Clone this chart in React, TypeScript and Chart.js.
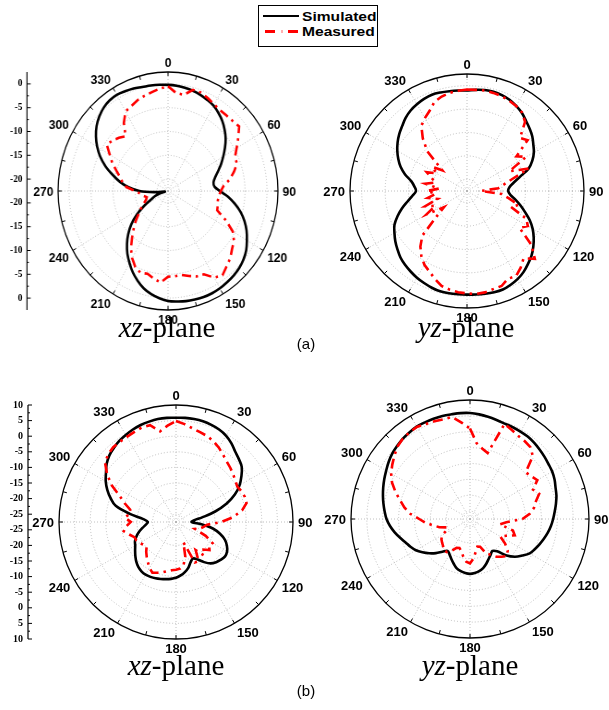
import React, { useEffect, useRef } from 'react';
import { Chart, registerables } from 'chart.js';

Chart.register(...registerables);

// Angular categories (degrees, 5° step)
const angleCategories = [
  '0', '5', '10', '15', '20', '25', '30', '35', '40', '45', '50', '55',
  '60', '65', '70', '75', '80', '85', '90', '95', '100', '105', '110', '115',
  '120', '125', '130', '135', '140', '145', '150', '155', '160', '165', '170', '175',
  '180', '185', '190', '195', '200', '205', '210', '215', '220', '225', '230', '235',
  '240', '245', '250', '255', '260', '265', '270', '275', '280', '285', '290', '295',
  '300', '305', '310', '315', '320', '325', '330', '335', '340', '345', '350', '355',
];
const angleTickLabels = [0, 30, 60, 90, 120, 150, 180, 210, 240, 270, 300, 330];

// Radial axis ticks
const aRadialTicks = [0, -5, -10, -15, -20];
const aMinorTicks = [-2.5, -7.5, -12.5, -17.5];
const aGrid = [-20, -15, -10, -5, 0];
const bRadialTicks = [10, 5, 0, -5, -10, -15, -20, -25];
const bMinorTicks = [7.5, 2.5, -2.5, -7.5, -12.5, -17.5, -22.5];
const bGrid = [-25, -20, -15, -10, -5, 0, 5];

// (a) xz-plane
const aXzSimulated = [
  -0.2, -0.3, -0.5, -0.7, -1.0, -1.4, -1.8, -2.5, -3.3, -4.3, -5.4, -6.7,
  -8.0, -9.2, -10.4, -11.4, -12.0, -11.9, -10.7, -8.8, -7.1, -5.4, -4.0, -2.8,
  -1.8, -0.8, -0.1, 0.4, 0.7, 0.9, 1.1, 1.2, 1.2, 1.1, 1.0, 0.8,
  0.6, 0.1, -0.5, -1.3, -2.4, -3.6, -5.0, -6.4, -8.0, -9.7, -11.6, -13.8,
  -16.2, -18.2, -19.3, -20.5, -21.8, -19.8, -16.0, -13.5, -11.4, -9.5, -7.4, -5.5,
  -3.9, -2.5, -1.3, -0.4, 0.3, 0.7, 0.8, 0.6, 0.4, 0.1, 0.0, -0.1,
];
const aXzMeasured = [
  -0.5, -1.8, -2.0, -0.5, -0.5, -1.0, -1.5, -1.8, -1.8, -1.7, -1.4, -3.0,
  -4.5, -5.7, -5.8, -7.0, -8.2, -9.8, -10.5, -10.9, -11.0, -10.8, -10.6, -8.0,
  -5.5, -4.2, -3.5, -2.5, -1.8, -0.9, -1.5, -3.2, -3.4, -4.0, -4.6, -4.5,
  -4.5, -3.2, -3.8, -4.5, -4.2, -4.9, -6.2, -7.8, -9.8, -11.5, -13.0, -14.5,
  -15.5, -16.5, -17.2, -17.5, -16.8, -16.2, -15.0, -13.0, -12.0, -11.2, -10.0, -8.5,
  -7.2, -5.5, -6.0, -6.7, -7.5, -5.0, -3.2, -2.8, -2.2, -1.8, -1.4, -0.9,
];

// (a) yz-plane
const aYzSimulated = [
  -1.0, -0.8, -0.6, -0.55, -0.7, -1.0, -1.5, -2.1, -2.9, -3.6, -4.3, -5.2,
  -6.0, -7.1, -8.5, -10.8, -12.4, -13.4, -13.7, -13.2, -12.0, -10.7, -9.3, -7.7,
  -6.3, -5.1, -4.0, -3.0, -2.2, -1.4, -0.8, -0.4, -0.1, -0.1, -0.2, -0.3,
  -0.35, -0.35, -0.3, -0.3, -0.5, -0.8, -1.1, -1.5, -1.9, -2.4, -3.1, -3.8,
  -4.6, -5.4, -6.7, -8.1, -9.6, -10.8, -11.6, -11.2, -10.4, -8.8, -7.4, -6.3,
  -5.3, -4.4, -3.6, -2.9, -2.1, -1.5, -1.1, -0.8, -0.6, -0.7, -0.85, -0.95,
];
const aYzMeasured = [
  -0.8, -0.8, -0.7, -0.8, -0.9, -1.2, -1.5, -2.0, -3.2, -6.5, -5.6, -9.6,
  -7.9, -12.5, -8.5, -12.4, -14.5, -15.8, -19.5, -15.0, -13.4, -11.1, -12.5, -8.5,
  -7.5, -8.8, -4.5, -2.0, -3.7, -2.5, -1.5, -1.8, -0.9, -0.8, -0.5, -0.4,
  -0.6, -0.8, -1.1, -1.5, -2.5, -3.5, -4.3, -5.5, -7.0, -9.0, -14.0, -16.5,
  -12.5, -15.0, -13.0, -16.0, -14.0, -15.8, -14.0, -16.5, -13.5, -15.5, -14.5, -13.0,
  -15.0, -13.5, -15.6, -10.5, -7.8, -5.5, -4.5, -3.6, -2.2, -1.6, -1.2, -1.0,
];

// (b) xz-plane
const bXzSimulated = [
  5.9, 6.0, 6.0, 5.9, 5.6, 5.2, 4.5, 3.4, 2.0, 1.0, 0.0, -1.9,
  -4.0, -6.7, -10.2, -14.5, -19.0, -21.8, -22.5, -19.3, -15.5, -12.9, -10.8, -9.5,
  -8.6, -8.3, -8.7, -9.3, -10.2, -11.8, -13.6, -14.6, -13.8, -12.3, -11.2, -10.3,
  -9.6, -9.2, -8.9, -8.6, -8.3, -8.1, -8.0, -8.2, -8.7, -9.5, -10.5, -11.5,
  -12.4, -13.0, -14.0, -15.2, -16.6, -17.8, -18.5, -17.0, -12.5, -7.5, -5.2, -3.2,
  -1.5, -0.1, 1.5, 2.7, 3.5, 4.2, 4.7, 5.2, 5.6, 5.8, 6.0, 6.0,
];
const bXzMeasured = [
  4.9, 4.0, 3.0, 2.3, 1.8, 1.0, 0.0, -1.2, -2.2, -2.9, -3.6, -4.3,
  -4.8, -4.3, -4.0, -4.1, -6.0, -9.0, -13.0, -17.5, -18.5, -19.5, -21.0, -17.0,
  -14.0, -14.5, -13.5, -15.0, -13.5, -16.5, -13.0, -13.2, -20.5, -16.0, -13.5, -12.5,
  -12.2, -12.0, -11.5, -10.8, -10.2, -9.6, -10.5, -11.8, -12.9, -14.0, -15.2, -14.8,
  -14.0, -13.5, -13.3, -12.0, -10.5, -11.5, -13.0, -11.0, -12.5, -12.3, -10.0, -7.5,
  -3.5, -0.5, 2.2, 3.2, 3.8, 3.9, 4.0, 4.3, 4.7, 4.6, 2.0, 3.5,
];

// (b) yz-plane
const bYzSimulated = [
  5.9, 5.6, 5.2, 4.8, 4.5, 4.4, 4.3, 4.2, 3.9, 3.5, 3.1, 2.7,
  2.4, 1.9, 1.2, 0.7, 0.0, -0.7, -1.3, -1.9, -2.6, -3.4, -4.2, -5.0,
  -5.8, -7.4, -9.0, -11.2, -14.2, -15.2, -14.5, -13.6, -12.5, -11.5, -10.8, -10.4,
  -10.2, -10.4, -10.8, -11.4, -12.5, -13.6, -14.6, -15.2, -14.0, -12.3, -10.7, -9.2,
  -7.8, -6.8, -5.9, -4.7, -3.4, -2.2, -1.2, -0.5, 0.2, 0.9, 1.6, 2.3,
  3.0, 3.8, 4.5, 5.0, 5.5, 5.8, 6.1, 6.1, 6.1, 6.1, 6.0, 6.0,
];
const bYzMeasured = [
  1.0, -3.5, -5.0, -6.0, 4.4, 3.5, 2.8, 2.5, 2.1, 0.5, -4.6, -4.0,
  -3.0, -5.6, -4.3, -6.0, -7.0, -8.6, -11.0, -16.0, -17.9, -13.5, -12.5, -15.0,
  -16.5, -14.0, -12.0, -11.0, -12.0, -13.0, -14.5, -15.5, -18.2, -18.5, -17.0, -15.0,
  -13.5, -14.0, -15.4, -17.0, -17.8, -17.5, -16.0, -14.8, -14.6, -15.5, -16.0, -16.5,
  -17.5, -19.5, -19.8, -17.5, -15.8, -13.5, -11.5, -8.6, -6.5, -4.7, -2.5, -0.4,
  1.2, 2.4, 3.6, 4.8, 5.5, 5.8, 6.0, 5.5, 5.3, 5.0, 5.2, 3.0,
];

const polarDecor = {
  id: 'polarDecor',
  afterDraw(chart: any, _args: any, opts: any) {
    const s = chart.scales.r;
    const ctx = chart.ctx;
    const xc = s.xCenter;
    const yc = s.yCenter;
    const R = s.getDistanceFromCenterForValue(s.max);
    ctx.save();
    ctx.setLineDash([]);
    ctx.strokeStyle = '#000';
    ctx.lineWidth = 1.3;
    ctx.beginPath();
    ctx.arc(xc, yc, R, 0, Math.PI * 2);
    ctx.stroke();
    const n = chart.data.labels.length;
    ctx.lineWidth = 1;
    for (let i = 0; i < n; i += 3) {
      const p1 = s.getPointPosition(i, R);
      const p2 = s.getPointPosition(i, R - 4);
      ctx.beginPath();
      ctx.moveTo(p1.x, p1.y);
      ctx.lineTo(p2.x, p2.y);
      ctx.stroke();
    }
    ctx.fillStyle = '#000';
    ctx.font = 'bold 13px "Liberation Sans", Arial, sans-serif';
    ctx.textAlign = 'center';
    ctx.textBaseline = 'alphabetic';
    const h = 9.4;
    for (const deg of angleTickLabels) {
      const i = angleCategories.indexOf(String(deg));
      const p = s.getPointPosition(i, R + opts.labelPad);
      const text = String(deg);
      const w = ctx.measureText(text).width;
      let cx = p.x;
      let cy = p.y;
      if (deg > 0 && deg < 180) cx += w / 2;
      else if (deg > 180) cx -= w / 2;
      if (deg < 90 || deg > 270) cy -= h / 2;
      else if (deg > 90 && deg < 270) cy += h / 2;
      ctx.fillText(text, cx, cy + h / 2);
    }
    if (opts.axisOffset) {
      const ax = xc - opts.axisOffset;
      ctx.lineWidth = 1.2;
      ctx.beginPath();
      ctx.moveTo(ax, yc - R);
      ctx.lineTo(ax, yc + R);
      ctx.stroke();
      ctx.lineWidth = 1;
      ctx.font = 'bold 10px "Liberation Serif", "Times New Roman", serif';
      ctx.textAlign = 'right';
      ctx.textBaseline = 'middle';
      for (const v of opts.major) {
        const d = s.getDistanceFromCenterForValue(v);
        for (const y of [yc - d, yc + d]) {
          ctx.beginPath();
          ctx.moveTo(ax, y);
          ctx.lineTo(ax + 4, y);
          ctx.stroke();
          ctx.fillText(String(v), ax - 5, y);
        }
      }
      for (const v of opts.minor) {
        const d = s.getDistanceFromCenterForValue(v);
        for (const y of [yc - d, yc + d]) {
          ctx.beginPath();
          ctx.moveTo(ax, y);
          ctx.lineTo(ax + 2, y);
          ctx.stroke();
        }
      }
    }
    ctx.restore();
  },
};

type PanelProps = {
  sim: number[];
  meas: number[];
  min: number;
  max: number;
  grid: number[];
  major?: number[];
  minor?: number[];
  axisOffset?: number;
  left: number;
  top: number;
  w: number;
  h: number;
  pad: number;
  sx?: number;
};

function PolarPanel(p: PanelProps) {
  const ref = useRef<HTMLCanvasElement>(null);
  useEffect(() => {
    const chart = new Chart(ref.current as HTMLCanvasElement, {
      type: 'radar',
      data: {
        labels: angleCategories,
        datasets: [
          {
            label: 'Measured',
            data: p.meas,
            borderColor: '#ff0000',
            borderWidth: 2.6,
            borderDash: [10, 5, 2.5, 5],
            pointRadius: 0,
            tension: 0,
            fill: false,
          },
          {
            label: 'Simulated',
            data: p.sim,
            borderColor: '#000000',
            borderWidth: 2.6,
            pointRadius: 0,
            tension: 0.35,
            fill: false,
          },
        ],
      },
      options: {
        responsive: false,
        animation: false,
        devicePixelRatio: 1,
        layout: { padding: p.pad },
        plugins: {
          legend: { display: false },
          tooltip: { enabled: false },
          polarDecor: {
            labelPad: 5,
            axisOffset: p.axisOffset || 0,
            major: p.major || [],
            minor: p.minor || [],
          },
        } as any,
        scales: {
          r: {
            min: p.min,
            max: p.max,
            startAngle: 0,
            afterBuildTicks: (scale: any) => {
              scale.ticks = p.grid.map((v) => ({ value: v }));
            },
            ticks: { display: false },
            pointLabels: { display: false },
            grid: { circular: true, color: '#b0b0b0', lineWidth: 0.8 },
            border: { dash: [1, 2] },
            angleLines: {
              display: true,
              color: '#b0b0b0',
              lineWidth: (c: any) => (c.index % 6 === 0 ? 0.8 : 0),
              borderDash: [1, 2],
            },
          } as any,
        },
      },
      plugins: [polarDecor as any],
    });
    return () => chart.destroy();
  }, []);
  return (
    <canvas
      ref={ref}
      width={p.w}
      height={p.h}
      style={{
        position: 'absolute',
        left: p.left,
        top: p.top,
        width: p.w,
        height: p.h,
        transform: `scaleX(${p.sx || 1})`,
        transformOrigin: 'center center',
      }}
    />
  );
}

function Caption({ cx, top, name }: { cx: number; top: number; name: string }) {
  return (
    <div
      style={{
        position: 'absolute',
        left: cx - 100,
        top,
        width: 200,
        textAlign: 'center',
        fontFamily: '"Liberation Serif", "Times New Roman", serif',
        fontSize: 29,
        lineHeight: '29px',
        color: '#000',
        whiteSpace: 'nowrap',
      }}
    >
      <i>{name}</i>-plane
    </div>
  );
}

function PartLabel({ top, text }: { top: number; text: string }) {
  return (
    <div
      style={{
        position: 'absolute',
        left: 256,
        top,
        width: 100,
        textAlign: 'center',
        fontFamily: '"Liberation Sans", Arial, sans-serif',
        fontSize: 15,
        lineHeight: '15px',
        color: '#000',
      }}
    >
      {text}
    </div>
  );
}

export default function App() {
  const legendText: React.CSSProperties = {
    position: 'absolute',
    left: 43,
    fontFamily: '"Liberation Sans", Arial, sans-serif',
    fontWeight: 'bold',
    fontSize: 13,
    lineHeight: '13px',
    transform: 'scaleX(1.2)',
    transformOrigin: 'left center',
    whiteSpace: 'nowrap',
  };
  return (
    <div
      style={{
        position: 'absolute',
        left: 0,
        top: 0,
        width: 609,
        height: 710,
        overflow: 'hidden',
        background: '#fff',
      }}
    >
      <div
        style={{
          position: 'absolute',
          left: 258,
          top: 5,
          width: 118,
          height: 40,
          border: '1px solid #000',
        }}
      >
        <div style={{ position: 'absolute', left: 4, top: 9, width: 36, height: 2, background: '#000' }} />
        <div style={{ ...legendText, top: 4 }}>Simulated</div>
        <div style={{ position: 'absolute', left: 6, top: 24, width: 10, height: 2.5, background: '#ff0000' }} />
        <div style={{ position: 'absolute', left: 22, top: 24, width: 2, height: 2.5, background: '#ffb0b0' }} />
        <div style={{ position: 'absolute', left: 29, top: 24, width: 10, height: 2.5, background: '#ff0000' }} />
        <div style={{ ...legendText, top: 19 }}>Measured</div>
      </div>

      <PolarPanel
        sim={aXzSimulated}
        meas={aXzMeasured}
        min={-22.5}
        max={2.5}
        grid={aGrid}
        major={aRadialTicks}
        minor={aMinorTicks}
        axisOffset={152.6}
        left={-12}
        top={51}
        w={360}
        h={280}
        pad={21}
        sx={0.924}
      />
      <PolarPanel
        sim={aYzSimulated}
        meas={aYzMeasured}
        min={-22.5}
        max={2.5}
        grid={aGrid}
        left={317}
        top={41}
        w={300}
        h={300}
        pad={33}
      />
      <PolarPanel
        sim={bXzSimulated}
        meas={bXzMeasured}
        min={-27.5}
        max={10}
        grid={bGrid}
        major={bRadialTicks}
        minor={bMinorTicks}
        axisOffset={148}
        left={0}
        top={372}
        w={352}
        h={300}
        pad={33}
      />
      <PolarPanel
        sim={bYzSimulated}
        meas={bYzMeasured}
        min={-27.5}
        max={10}
        grid={bGrid}
        left={320}
        top={369}
        w={300}
        h={300}
        pad={31}
      />

      <Caption cx={167} top={313} name="xz" />
      <Caption cx={466} top={313} name="yz" />
      <Caption cx={176} top={651} name="xz" />
      <Caption cx={470} top={651} name="yz" />
      <PartLabel top={336} text="(a)" />
      <PartLabel top={683} text="(b)" />
    </div>
  );
}
